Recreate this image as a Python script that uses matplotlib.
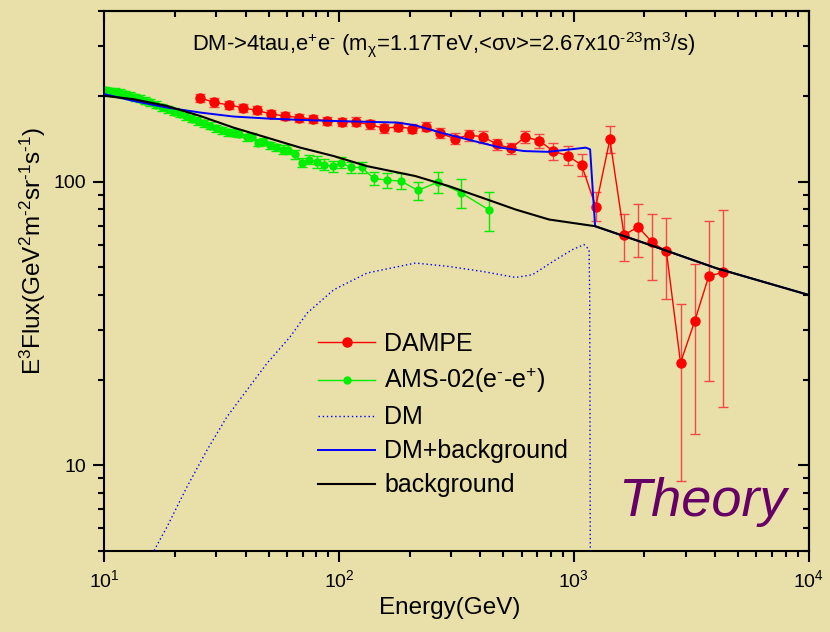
import numpy as np
import matplotlib
matplotlib.use("Agg")
import matplotlib.pyplot as plt
from matplotlib.lines import Line2D
from matplotlib.ticker import LogLocator, NullFormatter, FixedLocator, FixedFormatter

plt.rcParams['font.family'] = ['Liberation Sans', 'DejaVu Sans']
plt.rcParams['mathtext.fontset'] = 'custom'
plt.rcParams['mathtext.rm'] = 'Liberation Sans'
plt.rcParams['mathtext.it'] = 'Liberation Sans:italic'
plt.rcParams['mathtext.default'] = 'regular'

# DAMPE (E in GeV, E^3 flux)
dampe_E = [25.6, 29.4, 33.8, 38.8, 44.6, 51.2, 58.8, 67.6, 77.6, 89.1, 102.4, 117.6,
           135.0, 155.1, 178.2, 204.7, 235.1, 270.0, 310.2, 356.3, 409.2, 470.1, 540.0,
           620.2, 712.4, 818.3, 940.0, 1079.7, 1240.2, 1424.6, 1636.4, 1879.6, 2159.0,
           2480.0, 2848.6, 3272.1, 3758.5, 4317.2]
dampe_F = [197.6, 190.3, 186.6, 182.4, 178.4, 173.4, 170.5, 168.4, 166.1, 164.1, 163.0,
           162.5, 159.2, 154.3, 156.2, 153.9, 156.0, 148.2, 142.0, 145.8, 144.3, 135.5,
           131.2, 143.8, 139.6, 128.0, 123.7, 114.4, 81.6, 141.1, 64.9, 69.3, 61.1, 56.8,
           23.0, 32.2, 46.5, 47.9]
dampe_lo = [191.3, 184.2, 180.6, 176.6, 172.7, 167.8, 165.0, 163.0, 160.8, 158.8, 157.8,
            156.7, 153.5, 148.8, 150.6, 148.4, 150.4, 142.3, 135.8, 139.4, 137.4, 129.6,
            125.5, 136.9, 131.9, 119.6, 114.5, 104.6, 72.5, 126.2, 52.5, 54.3, 44.9, 38.7,
            8.8, 12.9, 19.8, 16.1]
dampe_hi = [204.1, 196.6, 192.8, 188.4, 184.3, 179.1, 176.1, 174.0, 171.6, 169.5, 168.4,
            168.6, 165.1, 160.1, 162.0, 159.6, 161.8, 154.4, 148.5, 152.5, 151.5, 141.7,
            137.2, 151.0, 147.8, 137.0, 133.6, 125.1, 91.8, 157.8, 76.8, 83.3, 76.8, 74.6,
            37.1, 51.4, 72.8, 79.3]

# AMS-02 (e- - e+)
ams_E = [10.05, 10.56, 11.09, 11.65, 12.23, 12.85, 13.50, 14.17, 14.89, 15.64, 16.59,
         17.60, 18.66, 19.80, 21.00, 22.27, 23.63, 25.06, 26.58, 28.20, 29.91, 31.73,
         33.65, 35.13, 37.50, 40.29, 42.48, 45.19, 47.93, 50.50, 53.79, 57.41, 60.71,
         64.83, 69.51, 74.47, 80.17, 86.45, 93.83, 102.2, 112.0, 124.9, 140.4, 159.4,
         183.4, 216.7, 263.3, 330.7, 434.5]
ams_F = [210.0, 208.6, 207.3, 205.7, 203.6, 201.3, 198.7, 196.1, 193.3, 190.3, 186.8,
         183.3, 179.9, 176.7, 173.6, 170.5, 167.1, 163.8, 160.8, 157.6, 154.5, 151.9,
         149.7, 149.1, 147.9, 143.7, 144.3, 137.5, 138.6, 134.7, 132.6, 129.8, 129.6,
         124.9, 116.7, 119.7, 117.5, 114.9, 113.3, 116.7, 112.3, 112.3, 102.7, 101.4,
         100.5, 93.2, 99.7, 91.4, 79.6]
ams_err = [6.1, 6.0, 6.0, 6.0, 5.9, 5.8, 5.8, 5.7, 5.6, 5.5, 5.4, 5.3, 5.2, 5.1, 5.0,
           4.9, 4.8, 4.8, 4.7, 4.6, 4.5, 4.4, 4.3, 4.3, 4.3, 4.2, 4.2, 4.0, 4.0, 3.9,
           3.8, 4.8, 4.8, 4.7, 4.4, 4.5, 5.4, 5.3, 5.2, 5.3, 5.1, 5.1, 5.4, 6.2, 6.5,
           6.8, 8.7, 10.5, 12.6]

# DM only
dm_E = [15.64, 18.43, 22.43, 27.31, 33.23, 40.45, 49.23, 61.90, 72.94, 94.74, 131.5,
        211.4, 293.3, 407.3, 564.9, 665.9, 837.0, 986.3, 1105.6, 1161.0, 1169.0, 1180.0]
dm_F = [4.72, 6.05, 8.38, 11.30, 14.82, 18.42, 22.89, 28.43, 34.40, 41.59, 47.66,
        51.68, 50.27, 48.28, 45.98, 47.00, 53.08, 57.62, 60.03, 57.62, 38.4, 1.0]

# DM + background
dmbg_E = [10.0, 13.27, 18.43, 25.56, 35.45, 49.23, 68.31, 94.74, 131.5, 176.7, 211.4,
          270.3, 375.0, 487.5, 613.1, 771.5, 970.0, 1124.0, 1173.0, 1232.0, 2094.0,
          4033.0, 10000.0]
dmbg_F = [203.6, 192.8, 182.7, 175.4, 169.8, 167.1, 165.2, 163.8, 162.7, 161.7, 158.1,
          149.1, 139.2, 131.9, 128.3, 127.5, 130.1, 131.9, 130.1, 69.7, 60.0, 49.6, 39.9]

# background
bg_E = [10.0, 13.27, 18.43, 25.56, 35.45, 49.23, 68.31, 94.74, 131.5, 211.4, 293.3,
        407.3, 564.9, 783.7, 1232.0, 2094.0, 4033.0, 10000.0]
bg_F = [200.8, 195.5, 185.1, 170.6, 155.2, 143.1, 131.9, 123.2, 113.5, 104.7, 96.5,
        87.8, 79.8, 73.6, 69.7, 60.0, 49.6, 39.9]

bgcol = '#E9DFA8'
red, green, blue = '#FF0000', '#00EE00', '#0000FF'

fig = plt.figure(figsize=(8.3, 6.32), dpi=100, facecolor=bgcol)
ax = fig.add_axes([0.1259, 0.1286, 0.8482, 0.8540], facecolor=bgcol)

dF = np.array(dampe_F)
yerr_d = [dF - np.array(dampe_lo), np.array(dampe_hi) - dF]
ax.errorbar(dampe_E, dampe_F, yerr=yerr_d, fmt='-o', color=red, ecolor='#F44848',
            ms=6.5, lw=1.0, elinewidth=1.0, capsize=3.8, capthick=1.0, zorder=2)
ax.errorbar(ams_E, ams_F, yerr=ams_err, fmt='-o', color=green, ecolor=green,
            ms=5, lw=1.0, elinewidth=1.0, capsize=3.6, capthick=1.0, zorder=2)
ax.plot(dm_E, dm_F, color=blue, lw=1.0, ls=(0, (1, 2)), zorder=3)
ax.plot(dmbg_E, dmbg_F, color=blue, lw=1.4, zorder=3)
ax.plot(bg_E, bg_F, color='black', lw=1.5, zorder=4)

ax.set_xscale('log')
ax.set_yscale('log')
ax.set_xlim(10, 1e4)
ax.set_ylim(5, 400)

ax.xaxis.set_major_locator(LogLocator(base=10, numticks=10))
ax.xaxis.set_minor_locator(LogLocator(base=10, subs=np.arange(2, 10), numticks=20))
ax.xaxis.set_minor_formatter(NullFormatter())
ax.yaxis.set_major_locator(FixedLocator([10, 100]))
ax.yaxis.set_major_formatter(FixedFormatter(['10', '100']))
ax.yaxis.set_minor_locator(LogLocator(base=10, subs=np.arange(2, 10), numticks=20))
ax.yaxis.set_minor_formatter(NullFormatter())

for s in ax.spines.values():
    s.set_linewidth(1.5)
ax.tick_params(which='major', direction='out', length=8, width=1.5, labelsize=14, pad=5)
ax.tick_params(which='minor', direction='out', length=4, width=1.5)

# top and right axes with inward ticks, no labels
top = ax.secondary_xaxis('top')
top.xaxis.set_major_locator(LogLocator(base=10, numticks=10))
top.xaxis.set_minor_locator(LogLocator(base=10, subs=np.arange(2, 10), numticks=20))
top.xaxis.set_major_formatter(NullFormatter())
top.xaxis.set_minor_formatter(NullFormatter())
top.tick_params(which='major', direction='in', length=8, width=1.5)
top.tick_params(which='minor', direction='in', length=4, width=1.5)
right = ax.secondary_yaxis('right')
right.yaxis.set_major_locator(FixedLocator([10, 100]))
right.yaxis.set_minor_locator(LogLocator(base=10, subs=np.arange(2, 10), numticks=20))
right.yaxis.set_major_formatter(NullFormatter())
right.yaxis.set_minor_formatter(NullFormatter())
right.tick_params(which='major', direction='in', length=8, width=1.5)
right.tick_params(which='minor', direction='in', length=4, width=1.5)
for a in (top, right):
    for s in a.spines.values():
        s.set_linewidth(1.5)

ax.set_xlabel('Energy(GeV)', fontsize=17.5)
ax.xaxis.set_label_coords(0.49, -0.085)
ax.set_ylabel(r'E$^{3}$Flux(GeV$^{2}$m$^{\text{-}2}$sr$^{\text{-}1}$s$^{\text{-}1}$)', fontsize=17.5)
ax.yaxis.set_label_coords(-0.08, 0.555)

ax.text(0.4815, 0.937,
        r'DM->4tau,e$^{+}$e$^{\text{-}}$ (m$_{\chi}$=1.17TeV,<$\sigma\nu$>=2.67x10$^{\text{-}23}$m$^{3}$/s)',
        transform=ax.transAxes, ha='center', va='center', fontsize=15.8)
ax.text(0.85, 0.09, 'Theory', transform=ax.transAxes, ha='center', va='center',
        fontsize=39, style='italic', color='#660066')

handles = [
    Line2D([], [], color=red, marker='o', ms=6.5, lw=1.0),
    Line2D([], [], color=green, marker='o', ms=5, lw=1.0),
    Line2D([], [], color=blue, lw=1.0, ls=(0, (1, 2))),
    Line2D([], [], color=blue, lw=1.4),
    Line2D([], [], color='black', lw=1.5),
]
labels = ['DAMPE', r'AMS-02(e$^{\text{-}}$-e$^{+}$)', 'DM', 'DM+background', 'background']
ax.legend(handles, labels, loc='upper left', bbox_to_anchor=(0.303, 0.405), frameon=False,
          fontsize=18, handlelength=2.3, handletextpad=0.35, labelspacing=0.4,
          borderpad=0, borderaxespad=0)

fig.savefig('out.png', dpi=100, facecolor=bgcol)
